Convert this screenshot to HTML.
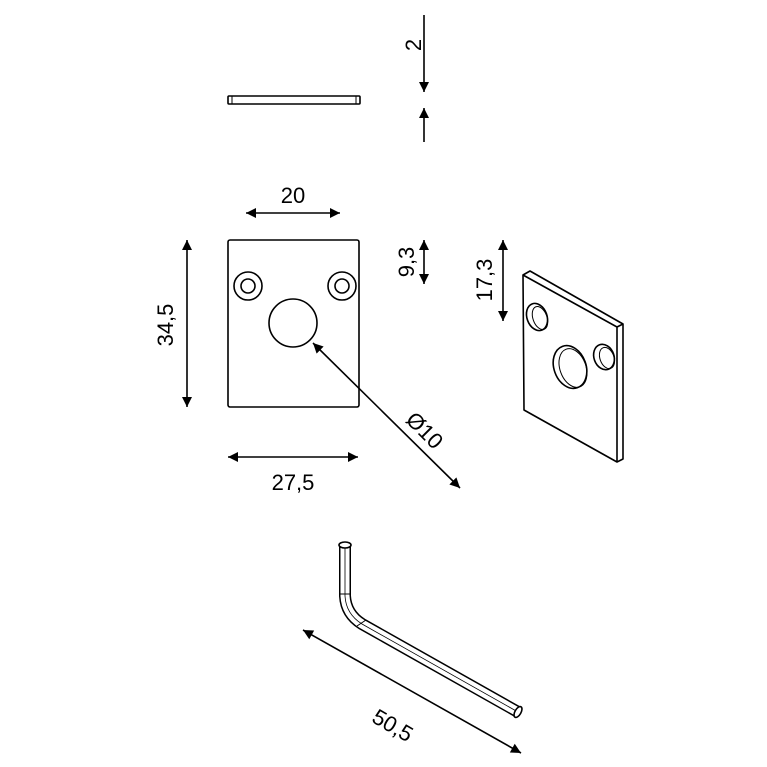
<!DOCTYPE html>
<html><head><meta charset="utf-8"><style>html,body{margin:0;padding:0;background:#fff}svg{display:block}text{font-family:"Liberation Sans",sans-serif;font-size:22px;fill:#000}</style></head>
<body>
<svg width="767" height="767" viewBox="0 0 767 767" xmlns="http://www.w3.org/2000/svg">
<defs>
<marker id="a" viewBox="0 0 10 10" refX="10" refY="5" markerWidth="18" markerHeight="10" markerUnits="userSpaceOnUse" orient="auto-start-reverse"><path d="M0,0 L10,5 L0,10 z" fill="#000"/></marker>
</defs>
<g fill="none" stroke="#000" stroke-width="1.6">
<rect x="228" y="96" width="132" height="8" rx="1"/>
<line x1="232" y1="96" x2="232" y2="104" stroke-width="1"/>
<line x1="356" y1="96" x2="356" y2="104" stroke-width="1"/>
<line x1="424" y1="15" x2="424" y2="92" marker-end="url(#a)"/>
<line x1="424" y1="142" x2="424" y2="108" marker-end="url(#a)"/>
<rect x="228" y="240" width="131" height="167" rx="2"/>
<circle cx="248" cy="286" r="14"/><circle cx="248" cy="286" r="7"/>
<circle cx="342" cy="286" r="14"/><circle cx="342" cy="286" r="7"/>
<circle cx="293" cy="323" r="24"/>
<line x1="246" y1="213" x2="340" y2="213" marker-start="url(#a)" marker-end="url(#a)"/>
<line x1="187" y1="240" x2="187" y2="407" marker-start="url(#a)" marker-end="url(#a)"/>
<line x1="228" y1="457" x2="358" y2="457" marker-start="url(#a)" marker-end="url(#a)"/>
<line x1="313" y1="343" x2="460" y2="488" marker-start="url(#a)" marker-end="url(#a)"/>
<line x1="424" y1="240" x2="424" y2="284" marker-start="url(#a)" marker-end="url(#a)"/>
<line x1="503" y1="240" x2="503" y2="321" marker-start="url(#a)" marker-end="url(#a)"/>
<path d="M523,275 L530,271 L623,324 L623,459 L617,462 L524,410 Z" stroke-linejoin="round"/>
<path d="M523,275 L617,327 L617,462 M617,327 L623,324"/>
<ellipse cx="537" cy="317" rx="10" ry="14" transform="rotate(-20 537 317)"/>
<ellipse cx="540" cy="318" rx="7" ry="12" transform="rotate(-20 540 318)" stroke-width="1"/>
<ellipse cx="570" cy="367" rx="16" ry="22" transform="rotate(-20 570 367)"/>
<ellipse cx="573" cy="368" rx="13" ry="20" transform="rotate(-20 573 368)" stroke-width="1"/>
<ellipse cx="604" cy="357" rx="10" ry="13" transform="rotate(-20 604 357)"/>
<ellipse cx="607" cy="358" rx="7" ry="11" transform="rotate(-20 607 358)" stroke-width="1"/>
<path d="M345,547 L345,596 Q346,614 362,624 L518,712" stroke-width="12" stroke-linejoin="round"/>
<path d="M345,547 L345,596 Q346,614 362,624 L518,712" stroke="#fff" stroke-width="9"/>
<path d="M345,545 L345,596 Q346,614 362,624 L518,712" stroke-width="0.8"/>
<ellipse cx="345" cy="545" rx="6" ry="3" fill="#fff"/>
<line x1="339" y1="594" x2="351" y2="594" stroke-width="1"/>
<line x1="357" y1="626" x2="366" y2="620" stroke-width="1"/>
<ellipse cx="518" cy="712" rx="3" ry="6" transform="rotate(30 518 712)" fill="#fff"/>
<line x1="303" y1="630" x2="521" y2="753" marker-start="url(#a)" marker-end="url(#a)"/>
</g>
<text x="413" y="45" text-anchor="middle" transform="rotate(-90 413 45)" dy="8">2</text>
<text x="293" y="203" text-anchor="middle">20</text>
<text x="293" y="490" text-anchor="middle">27,5</text>
<text x="165" y="325" text-anchor="middle" transform="rotate(-90 165 325)" dy="8">34,5</text>
<text x="406" y="262" text-anchor="middle" transform="rotate(-90 406 262)" dy="8">9,3</text>
<text x="484" y="280" text-anchor="middle" transform="rotate(-90 484 280)" dy="8">17,3</text>
<text x="425" y="430" text-anchor="middle" transform="rotate(45 425 430)" dy="8">Ø10</text>
<text x="393" y="725" text-anchor="middle" transform="rotate(30 393 725)" dy="8">50,5</text>
</svg>
</body></html>
